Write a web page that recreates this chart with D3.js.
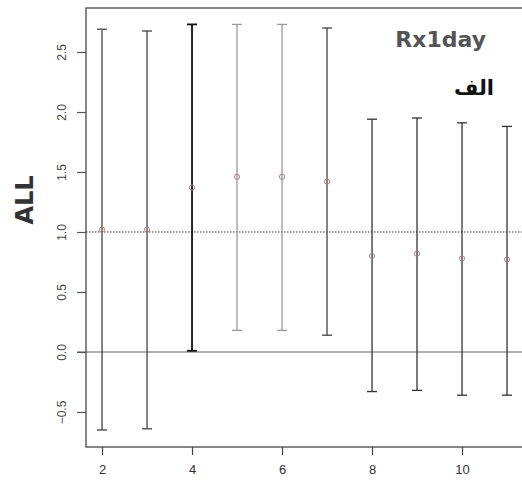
<!DOCTYPE html>
<meta charset="utf-8">
<head>
  <script src="https://d3js.org/d3.v7.min.js"></script>
  <style>
    body { margin: 0; background: #fff; }
    .grafico text { font-family: "Liberation Sans", Arial, sans-serif; }
  </style>
</head>
<body>
<div id="chart"></div>
<script>
"use strict"

// valores
var posicoes = [2, 3, 4, 5, 6, 7, 8, 9, 10, 11];
var medias   = [1.02, 1.02, 1.37, 1.46, 1.46, 1.42, 0.80, 0.82, 0.78, 0.77];
var superior = [2.69, 2.675, 2.73, 2.73, 2.73, 2.70, 1.94, 1.95, 1.91, 1.88];
var inferior = [-0.65, -0.64, 0.01, 0.18, 0.18, 0.14, -0.33, -0.32, -0.36, -0.36];
var coresBarra = ["#444", "#444", "#111", "#999", "#999", "#444", "#333", "#333", "#333", "#333"];
var ticksY = [-0.5, 0.0, 0.5, 1.0, 1.5, 2.0, 2.5];
var ticksX = [2, 4, 6, 8, 10];

var larguraSVG = 522, alturaSVG = 481;
var margin = {left: 86, top: 8, bottom: 34};
var alturaVis = alturaSVG - margin.top - margin.bottom;

var svg = d3.select('#chart')
            .append('svg')
              .attr('width', larguraSVG)
              .attr('height', alturaSVG)
              .attr('class', 'grafico');

var x = d3.scaleLinear()
          .domain([1.644, 12.36])
          .range([margin.left, margin.left + 10.716 * 45]);

var y = d3.scaleLinear()
          .domain([-0.7917, 2.8667])
          .range([margin.top + alturaVis, margin.top]);

// linhas de referencia
svg.append('line')
   .attr('x1', x(1.644) - 9).attr('x2', larguraSVG)
   .attr('y1', y(0)).attr('y2', y(0))
   .attr('stroke', '#666').attr('stroke-width', 1.2);

svg.append('line')
   .attr('x1', x(1.644)).attr('x2', larguraSVG)
   .attr('y1', y(1)).attr('y2', y(1))
   .attr('stroke', '#333').attr('stroke-width', 1)
   .attr('stroke-dasharray', '1.5,1.5');

// barras de erro
var barras = svg.selectAll('g.barra')
                .data(posicoes)
                .enter()
                .append('g')
                .attr('class', 'barra')
                .attr('stroke', function(d, i) { return coresBarra[i]; })
                .attr('stroke-width', function(d, i) { return i === 2 ? 1.8 : 1.3; });

barras.append('line')
      .attr('x1', function(d) { return x(d); })
      .attr('x2', function(d) { return x(d); })
      .attr('y1', function(d, i) { return y(superior[i]); })
      .attr('y2', function(d, i) { return y(inferior[i]); });

barras.append('line')
      .attr('x1', function(d) { return x(d) - 5; })
      .attr('x2', function(d) { return x(d) + 5; })
      .attr('y1', function(d, i) { return y(superior[i]); })
      .attr('y2', function(d, i) { return y(superior[i]); });

barras.append('line')
      .attr('x1', function(d) { return x(d) - 5; })
      .attr('x2', function(d) { return x(d) + 5; })
      .attr('y1', function(d, i) { return y(inferior[i]); })
      .attr('y2', function(d, i) { return y(inferior[i]); });

svg.selectAll('circle.media')
   .data(posicoes)
   .enter()
   .append('circle')
   .attr('class', 'media')
   .attr('cx', function(d) { return x(d); })
   .attr('cy', function(d, i) { return y(medias[i]); })
   .attr('r', 2.6)
   .attr('fill', 'none')
   .attr('stroke', '#b07a80')
   .attr('stroke-width', 1);

// caixa
svg.append('rect')
   .attr('x', x.range()[0]).attr('y', margin.top)
   .attr('width', x.range()[1] - x.range()[0])
   .attr('height', alturaVis)
   .attr('fill', 'none')
   .attr('stroke', '#555').attr('stroke-width', 1.4);

// eixos
var eixoY = svg.append('g')
   .attr('transform', 'translate(' + margin.left + ',0)')
   .call(d3.axisLeft(y).tickValues(ticksY).tickFormat(d3.format('.1f')).tickSize(9).tickSizeOuter(0));
eixoY.select('.domain').remove();
eixoY.selectAll('line').attr('stroke', '#555').attr('stroke-width', 1.2);
eixoY.selectAll('text')
     .attr('x', null).attr('dy', null)
     .attr('transform', 'translate(-24,0) rotate(-90)')
     .attr('text-anchor', 'middle')
     .attr('dominant-baseline', 'central')
     .attr('fill', '#444')
     .style('font-size', '12px');

var eixoX = svg.append('g')
   .attr('transform', 'translate(0,' + (margin.top + alturaVis) + ')')
   .call(d3.axisBottom(x).tickValues(ticksX).tickSize(8).tickSizeOuter(0));
eixoX.select('.domain').remove();
eixoX.selectAll('line').attr('stroke', '#444').attr('stroke-width', 1.2);
eixoX.selectAll('text')
     .attr('y', 18)
     .attr('fill', '#333')
     .style('font-size', '13px');

// rotulos
svg.append('text')
   .attr('transform', 'translate(33,200) rotate(-90)')
   .attr('text-anchor', 'middle')
   .style('font-family', '"DejaVu Sans", sans-serif')
   .style('font-weight', 'bold')
   .style('font-size', '24px')
   .attr('fill', '#333')
   .text('ALL');

svg.append('text')
   .attr('x', 486).attr('y', 47)
   .attr('text-anchor', 'end')
   .style('font-family', '"DejaVu Sans", sans-serif')
   .style('font-weight', 'bold')
   .style('font-size', '22px')
   .attr('fill', '#555')
   .text('Rx1day');

svg.append('text')
   .attr('x', 494).attr('y', 95)
   .attr('text-anchor', 'end')
   .style('font-family', '"DejaVu Sans", sans-serif')
   .style('font-weight', 'bold')
   .style('font-size', '21px')
   .attr('fill', '#111')
   .text('الف');
</script>
</body>
